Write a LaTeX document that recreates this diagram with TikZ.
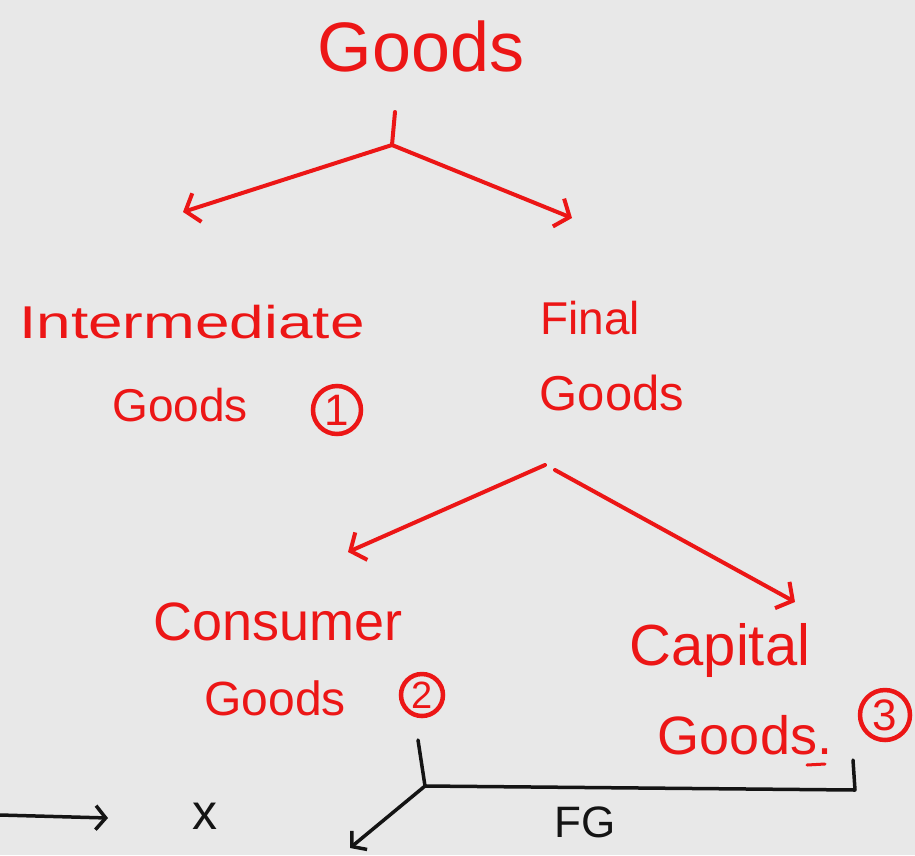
\documentclass[tikz,border=0pt]{standalone}
\usepackage{fontspec}
\setmainfont{Liberation Sans}
\usetikzlibrary{arrows.meta}
\definecolor{bg}{RGB}{232,232,232}
\definecolor{ink}{RGB}{236,22,22}
\definecolor{pen}{RGB}{20,20,20}
\newcommand\fsz[1]{\fontsize{#1}{#1}\selectfont}
\tikzset{
 redline/.style={draw=ink, line width=4pt, line cap=round, line join=round},
 redarrow/.style={redline, -{Straight Barb[length=12pt,width=30pt,line width=4pt]}},
 blackline/.style={draw=pen, line width=3.5pt, line cap=round, line join=round},
 blackarrow/.style={blackline, -{Straight Barb[length=10pt,width=24pt,line width=3.5pt]}},
 lab/.style={text=ink, inner sep=0pt, anchor=center},
 numcirc/.style={circle, draw=ink, line width=4.5pt, text=ink, inner sep=0pt, font=\fsz{44}},
 blab/.style={text=pen, inner sep=0pt, anchor=center},
}
\begin{document}
\begin{tikzpicture}[x=1pt,y=-1pt]
\useasboundingbox (0,0) rectangle (915,855);
\fill[bg] (0,0) rectangle (915,855);

% red labels
\node[lab, font=\fsz{70}] (goods) at (421,46) {Goods};
\node[lab, font=\fsz{46}] (inter) at (192,322) {\scalebox{1.35}[1]{Intermediate}};
\node[lab, font=\fsz{46}] (igoods) at (180,405) {Goods};
\node[numcirc, minimum size=48pt] (c1) at (337,410) {1};
\node[lab, font=\fsz{46}] (final) at (590,318) {Final};
\node[lab, font=\fsz{49}] (fgoods) at (612,393) {Goods};
\node[lab, font=\fsz{54}] (cons) at (278,622) {Consumer};
\node[lab, font=\fsz{48}] (cgoods) at (275,698) {Goods};
\node[numcirc, minimum size=42pt, font=\fsz{38}] (c2) at (422,695) {2};
\node[lab, font=\fsz{58}] (cap) at (720,650) {Capital};
\node[lab, font=\fsz{54}] (kgoods) at (745,735) {Goods.};
\node[numcirc, minimum size=50pt] (c3) at (885,715) {3};

% black labels
\node[blab, font=\fsz{50}] (x) at (205,816) {x};
\node[blab, font=\fsz{44}] (fg) at (585,822) {FG};

% junction coordinates
\coordinate (s1) at (395,112);
\coordinate (j1) at (392,145);
\coordinate (t1l) at (183,212);
\coordinate (t1r) at (572,218);
\coordinate (j2) at (545,465);
\coordinate (j2r) at (555,470);
\coordinate (t2l) at (348,552);
\coordinate (t2r) at (795,602);
\coordinate (b0) at (418,740);
\coordinate (b1) at (425,786);
\coordinate (b2) at (855,790);
\coordinate (b3) at (853,760);
\coordinate (t3) at (350,848);
\coordinate (l0) at (0,815);
\coordinate (l1) at (108,818);
\coordinate (d0) at (807,765);
\coordinate (d1) at (825,764);

% red connectors
\draw[redline] (s1) -- (j1);
\draw[redarrow] (j1) -- (t1l);
\draw[redarrow] (j1) -- (t1r);
\draw[redarrow] (j2) -- (t2l);
\draw[redarrow] (j2r) -- (t2r);
\draw[redline, line width=3pt] (d0) -- (d1);

% black connectors
\draw[blackline] (b0) -- (b1) -- (b2) -- (b3);
\draw[blackarrow] (b1) -- (t3);
\draw[blackarrow] (l0) -- (l1);
\end{tikzpicture}
\end{document}
